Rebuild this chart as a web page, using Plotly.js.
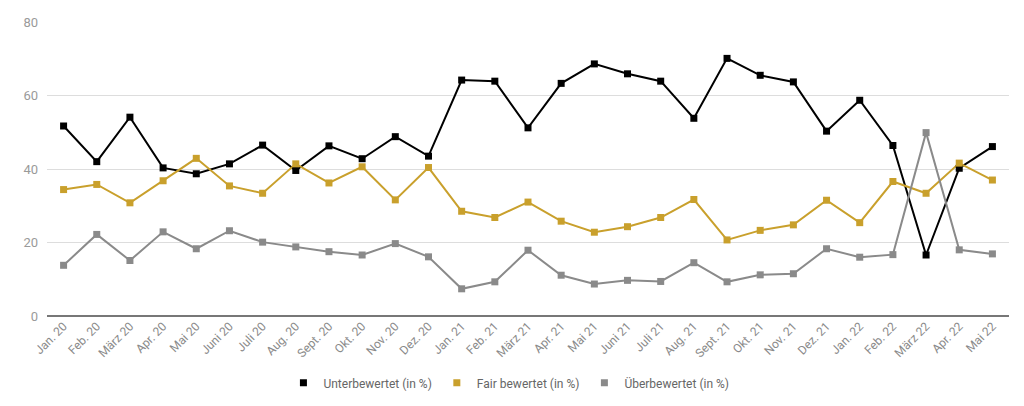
<!DOCTYPE html>
<html>
<head>
<meta charset="utf-8">
<script src="https://cdn.plot.ly/plotly-3.0.1.min.js"></script>
<style>
  html, body { margin: 0; padding: 0; background: #fff; }
  #chart { width: 1024px; height: 406px; }
</style>
</head>
<body>
<div id="chart"></div>
<script>
// ─── Data ────────────────────────────────────────────────────────────────────

const months = [
  'Jan. 20', 'Feb. 20', 'März 20', 'Apr. 20', 'Mai 20', 'Juni 20', 'Juli 20',
  'Aug. 20', 'Sept. 20', 'Okt. 20', 'Nov. 20', 'Dez. 20',
  'Jan. 21', 'Feb. 21', 'März 21', 'Apr. 21', 'Mai 21', 'Juni 21', 'Juli 21',
  'Aug. 21', 'Sept. 21', 'Okt. 21', 'Nov. 21', 'Dez. 21',
  'Jan. 22', 'Feb. 22', 'März 22', 'Apr. 22', 'Mai 22'
];

const unterbewertet = [
  51.7, 42.0, 54.1, 40.3, 38.7, 41.4, 46.5, 39.6, 46.3, 42.8, 48.8, 43.5,
  64.2, 63.9, 51.2, 63.3, 68.6, 65.9, 63.9, 53.8, 70.1, 65.5, 63.7, 50.3,
  58.7, 46.4, 16.6, 40.2, 46.1
];

const fairBewertet = [
  34.4, 35.8, 30.8, 36.8, 42.9, 35.4, 33.4, 41.4, 36.2, 40.6, 31.6, 40.4,
  28.5, 26.8, 31.0, 25.8, 22.8, 24.3, 26.8, 31.7, 20.7, 23.3, 24.8, 31.5,
  25.4, 36.6, 33.4, 41.6, 37.0
];

const ueberbewertet = [
  13.8, 22.2, 15.1, 22.9, 18.3, 23.2, 20.1, 18.8, 17.5, 16.6, 19.7, 16.1,
  7.4, 9.3, 17.9, 11.1, 8.7, 9.7, 9.4, 14.5, 9.3, 11.2, 11.5, 18.3,
  16.0, 16.7, 49.9, 18.0, 16.9
];

const seriesNames  = ['Unterbewertet (in %)', 'Fair bewertet (in %)', 'Überbewertet (in %)'];
const seriesColors = ['#000000', '#c9a02c', '#8a8a8a'];
const yTicks       = [0, 20, 40, 60, 80];

// ─── Traces ──────────────────────────────────────────────────────────────────

const seriesValues = [unterbewertet, fairBewertet, ueberbewertet];

// Lines without legend entries; the legend shows only the square markers
const lineTraces = seriesValues.map((vals, i) => ({
  x: months,
  y: vals,
  type: 'scatter',
  mode: 'lines',
  showlegend: false,
  line: { color: seriesColors[i], width: 2 },
}));

const markerTraces = seriesValues.map((vals, i) => ({
  x: months,
  y: vals,
  type: 'scatter',
  mode: 'markers',
  name: seriesNames[i],
  marker: { color: seriesColors[i], symbol: 'square', size: 7 },
}));

// ─── Layout ──────────────────────────────────────────────────────────────────

const layout = {
  width: 1024,
  height: 406,
  paper_bgcolor: '#ffffff',
  plot_bgcolor:  '#ffffff',
  font: { family: 'Roboto, sans-serif', color: '#757575', size: 11 },
  margin: { t: 22, b: 90, l: 47, r: 15 },
  showlegend: true,
  legend: {
    orientation: 'h',
    xref: 'container', x: 0.497, xanchor: 'center',
    yref: 'container', y: 0.057, yanchor: 'middle',
    font: { size: 12, color: '#666666' },
    itemwidth: 30,
    tracegroupgap: 0,
  },
  xaxis: {
    type: 'category',
    range: [-0.5, months.length - 0.5],
    tickangle: -45,
    tickfont: { size: 12, color: '#8a8a8a' },
    showgrid: false,
    zeroline: false,
    showline: false,
    ticks: '',
    fixedrange: true,
  },
  yaxis: {
    range: [0, 80],
    tickvals: yTicks,
    ticktext: yTicks.map(String),
    tickfont: { size: 13, color: '#9a9a9a' },
    gridcolor: '#dddddd',
    gridwidth: 1,
    zeroline: true,
    zerolinecolor: '#777777',
    zerolinewidth: 2,
    showline: false,
    ticks: '',
    ticklabelstandoff: 8,
  },
};

Plotly.newPlot('chart', [...lineTraces, ...markerTraces], layout,
  { displayModeBar: false, staticPlot: true });
</script>
</body>
</html>
